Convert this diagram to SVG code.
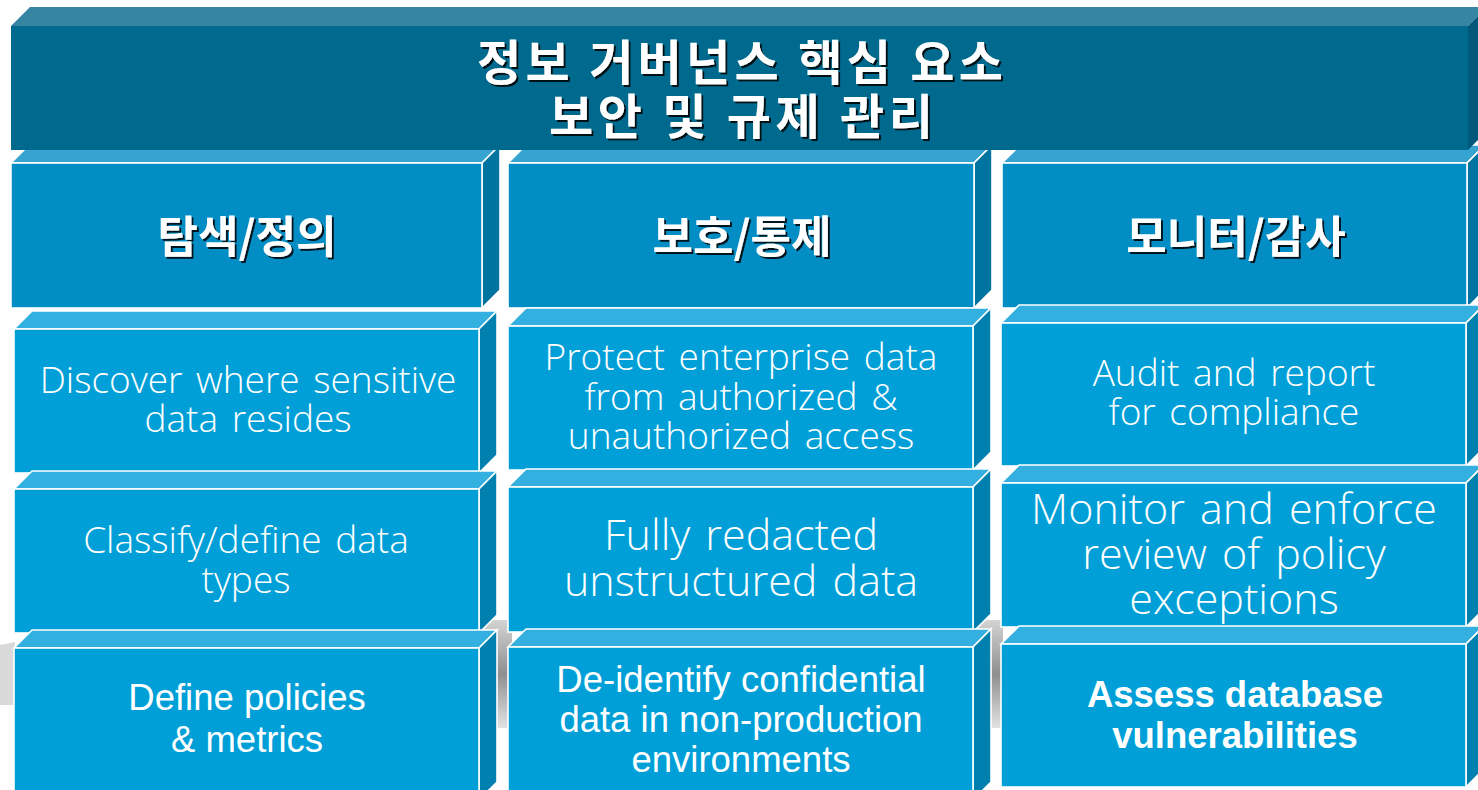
<svg xmlns="http://www.w3.org/2000/svg" width="1478" height="790" viewBox="0 0 1478 790">
<defs>
<style>
.bg{fill:#ffffff}
.hf{fill:#006a8e}
.ht{fill:#3585a3}
.hs{fill:#00587a}
.face{stroke:#ffffff;stroke-width:1.6;stroke-linejoin:miter}
.r1 .front{fill:#028ec4}
.r1 .top{fill:#36a3d0}
.r1 .side{fill:#0074a0}
.rb .front{fill:#019fd7}
.rb .top{fill:#33b0df}
.rb .side{fill:#0080ae}
.kr{font-family:"Noto Sans CJK KR","Noto Sans",sans-serif;font-weight:700;fill:#ffffff;filter:url(#sh);text-anchor:middle}
.seg{font-family:"Open Sans","Noto Sans",sans-serif;font-weight:300;fill:#ffffff;text-anchor:middle;word-spacing:4px}
.ar{font-family:"Liberation Sans",Arial,sans-serif;fill:#ffffff;text-anchor:middle}
</style>
<filter id="sh" x="-5%" y="-20%" width="115%" height="150%">
<feDropShadow dx="2" dy="2" stdDeviation="0.6" flood-color="#000000" flood-opacity="0.85"/>
</filter>
<linearGradient id="gray" x1="0" y1="0" x2="0" y2="1">
<stop offset="0" stop-color="#d4d4d4"/>
<stop offset="0.5" stop-color="#8f8f8f"/>
<stop offset="1" stop-color="#e2e2e2"/>
</linearGradient>
</defs>
<rect class="bg" x="0" y="0" width="1478" height="790"/>

<g id="backdrop">
<polygon points="0,645 15,642 15,705 0,705" fill="#d9d9d9"/>
<rect x="480" y="620" width="32" height="108" fill="url(#gray)"/>
<rect x="975" y="620" width="28" height="108" fill="url(#gray)"/>
</g>

<!-- Row 1 -->
<g id="n-discover" class="r1">
<path class="face top" d="M11,163 L29,145 L500,145 L482,163 Z"/>
<path class="face side" d="M482,163 L500,145 L500,290 L482,308 Z"/>
<rect class="face front" x="11" y="163" width="471" height="145"/>
<text class="kr" x="247" y="253" font-size="44">탐색/정의</text>
</g>
<g id="n-protect" class="r1">
<path class="face top" d="M508,163 L526,145 L992,145 L974,163 Z"/>
<path class="face side" d="M974,163 L992,145 L992,290 L974,308 Z"/>
<rect class="face front" x="508" y="163" width="466" height="145"/>
<text class="kr" x="742" y="253" font-size="44">보호/통제</text>
</g>
<g id="n-monitor" class="r1">
<path class="face top" d="M1002,163 L1020,145 L1485,145 L1467,163 Z"/>
<path class="face side" d="M1467,163 L1485,145 L1485,290 L1467,308 Z"/>
<rect class="face front" x="1002" y="163" width="465" height="145"/>
<text class="kr" x="1236" y="253" font-size="44">모니터/감사</text>
</g>

<!-- Row 2 -->
<g id="n-c1r2" class="rb">
<path class="face top" d="M14,329 L32,311 L497,311 L479,329 Z"/>
<path class="face side" d="M479,329 L497,311 L497,455 L479,473 Z"/>
<rect class="face front" x="14" y="329" width="465" height="144"/>
<text class="seg" font-size="37"><tspan x="248" y="393">Discover where sensitive</tspan><tspan x="248" y="432">data resides</tspan></text>
</g>
<g id="n-c2r2" class="rb">
<path class="face top" d="M508,326 L526,308 L991,308 L973,326 Z"/>
<path class="face side" d="M973,326 L991,308 L991,452 L973,470 Z"/>
<rect class="face front" x="508" y="326" width="465" height="144"/>
<text class="seg" font-size="37"><tspan x="741" y="370">Protect enterprise data</tspan><tspan x="741" y="410">from authorized &amp;</tspan><tspan x="741" y="449">unauthorized access</tspan></text>
</g>
<g id="n-c3r2" class="rb">
<path class="face top" d="M1001,323 L1019,305 L1484,305 L1466,323 Z"/>
<path class="face side" d="M1466,323 L1484,305 L1484,448 L1466,466 Z"/>
<rect class="face front" x="1001" y="323" width="465" height="143"/>
<text class="seg" font-size="37"><tspan x="1234" y="386">Audit and report</tspan><tspan x="1234" y="425">for compliance</tspan></text>
</g>

<!-- Row 3 -->
<g id="n-c1r3" class="rb">
<path class="face top" d="M14,489 L32,471 L497,471 L479,489 Z"/>
<path class="face side" d="M479,489 L497,471 L497,615 L479,633 Z"/>
<rect class="face front" x="14" y="489" width="465" height="144"/>
<text class="seg" font-size="37"><tspan x="246" y="553">Classify/define data</tspan><tspan x="246" y="593">types</tspan></text>
</g>
<g id="n-c2r3" class="rb">
<path class="face top" d="M508,487 L526,469 L991,469 L973,487 Z"/>
<path class="face side" d="M973,487 L991,469 L991,614 L973,632 Z"/>
<rect class="face front" x="508" y="487" width="465" height="145"/>
<text class="seg" font-size="43"><tspan x="741" y="550">Fully redacted</tspan><tspan x="741" y="596">unstructured data</tspan></text>
</g>
<g id="n-c3r3" class="rb">
<path class="face top" d="M1001,483 L1019,465 L1484,465 L1466,483 Z"/>
<path class="face side" d="M1466,483 L1484,465 L1484,609 L1466,627 Z"/>
<rect class="face front" x="1001" y="483" width="465" height="144"/>
<text class="seg" font-size="43"><tspan x="1234" y="524">Monitor and enforce</tspan><tspan x="1234" y="569">review of policy</tspan><tspan x="1234" y="614">exceptions</tspan></text>
</g>

<!-- Row 4 -->
<g id="n-c1r4" class="rb">
<path class="face top" d="M14,648 L32,630 L497,630 L479,648 Z"/>
<path class="face side" d="M479,648 L497,630 L497,782 L479,800 Z"/>
<rect class="face front" x="14" y="648" width="465" height="152"/>
<text class="ar" font-size="36.5"><tspan x="247" y="710">Define policies</tspan><tspan x="247" y="752">&amp; metrics</tspan></text>
</g>
<g id="n-c2r4" class="rb">
<path class="face top" d="M508,647 L526,629 L991,629 L973,647 Z"/>
<path class="face side" d="M973,647 L991,629 L991,782 L973,800 Z"/>
<rect class="face front" x="508" y="647" width="465" height="153"/>
<text class="ar" font-size="36.5"><tspan x="741" y="692">De-identify confidential</tspan><tspan x="741" y="732">data in non-production</tspan><tspan x="741" y="772">environments</tspan></text>
</g>
<g id="n-c3r4" class="rb">
<path class="face top" d="M1001,644 L1019,626 L1484,626 L1466,644 Z"/>
<path class="face side" d="M1466,644 L1484,626 L1484,769 L1466,787 Z"/>
<rect class="face front" x="1001" y="644" width="465" height="143"/>
<text class="ar" font-size="36.5" font-weight="700"><tspan x="1235" y="707">Assess database</tspan><tspan x="1235" y="748">vulnerabilities</tspan></text>
</g>

<!-- Header -->
<g id="n-header">
<polygon class="ht" points="11,26 30,7 1487,7 1468,26"/>
<polygon class="hs" points="1468,26 1487,7 1487,131 1468,150"/>
<rect class="hf" x="11" y="26" width="1457" height="124"/>
<text class="kr" x="740" y="80" font-size="48" textLength="526" lengthAdjust="spacing">정보 거버넌스 핵심 요소</text>
<text class="kr" x="741" y="134" font-size="48" textLength="384" lengthAdjust="spacing">보안 및 규제 관리</text>
</g>

<g id="connectors"></g>
</svg>
